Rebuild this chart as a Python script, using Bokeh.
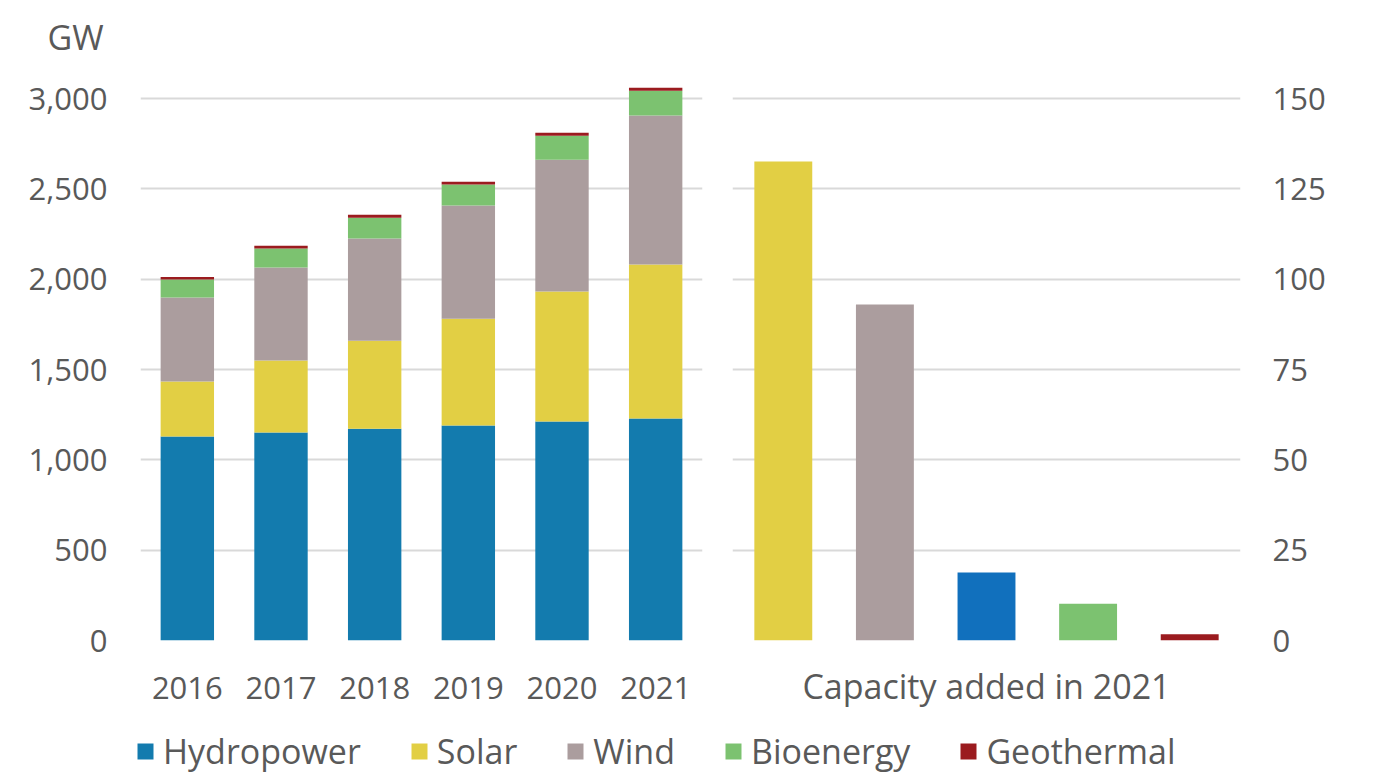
from bokeh.plotting import figure
from bokeh.models import ColumnDataSource, NumeralTickFormatter, Title, Legend, LegendItem, FixedTicker
from bokeh.layouts import column, row
from bokeh.embed import file_html
from bokeh.resources import INLINE

# ---- data ----
years = ["2016", "2017", "2018", "2019", "2020", "2021"]
hydro = [1129, 1151, 1173, 1190, 1212, 1229]
solar = [305, 399, 487, 592, 720, 852]
wind = [465, 515, 565, 626, 730, 825]
bio = [99, 105, 116, 116, 133, 138]
geo = [15, 15, 16, 16, 16, 16]

added_cats = ["Solar", "Wind", "Hydropower", "Bioenergy", "Geothermal"]
added_vals = [132.6, 93.0, 18.8, 10.2, 1.7]

left_ticks = [0, 500, 1000, 1500, 2000, 2500, 3000]
right_ticks = [0, 25, 50, 75, 100, 125, 150]

legend_names = ["Hydropower", "Solar", "Wind", "Bioenergy", "Geothermal"]

# ---- style ----
FONT = "Open Sans"
TXT = "#595959"
GRID = "#d9d9d9"
C_HYDRO = "#137bae"
C_HYDRO2 = "#1170bd"
C_SOLAR = "#e2cf44"
C_WIND = "#ab9d9e"
C_BIO = "#7cc270"
C_GEO = "#9b1b1f"
FS = "31px"
FS_L = "34px"

H = 725

def style(p):
    p.outline_line_color = None
    p.xgrid.grid_line_color = None
    p.ygrid.grid_line_color = GRID
    p.ygrid.grid_line_width = 2
    p.background_fill_color = "white"
    p.border_fill_color = "white"
    for ax in (p.xaxis[0], p.yaxis[0]):
        ax.axis_line_color = None
        ax.major_tick_line_color = None
        ax.minor_tick_line_color = None
        ax.major_tick_out = 0
        ax.major_tick_in = 0
        ax.major_label_text_font = FONT
        ax.major_label_text_font_size = FS
        ax.major_label_text_color = TXT
    p.x_range.range_padding = 0
    p.x_range.group_padding = 0

# ---- left panel ----
src = ColumnDataSource(dict(year=years, Hydropower=hydro, Solar=solar, Wind=wind,
                            Bioenergy=bio, Geothermal=geo))
left = figure(x_range=years, y_range=(0, 3200), width=717, height=H,
              output_backend="svg", toolbar_location=None,
              min_border_left=140, min_border_right=15, min_border_top=62, min_border_bottom=85)
left.vbar_stack(legend_names, x="year", width=0.57, source=src,
                color=[C_HYDRO, C_SOLAR, C_WIND, C_BIO, C_GEO], line_color=None)
style(left)
left.yaxis.ticker = FixedTicker(ticks=left_ticks)
left.yaxis.formatter = NumeralTickFormatter(format="0,0")
left.yaxis.major_label_standoff = 33
left.xaxis.major_label_standoff = 36
left.add_layout(Title(text="GW", align="left", offset=-93, standoff=5,
                      text_font=FONT, text_font_size=FS_L, text_font_style="normal",
                      text_color=TXT), "above")

# ---- right panel ----
src2 = ColumnDataSource(dict(cat=added_cats, val=added_vals,
                             col=[C_SOLAR, C_WIND, C_HYDRO2, C_BIO, C_GEO]))
right = figure(x_range=added_cats, y_range=(0, 160), width=661, height=H,
               y_axis_location="right", output_backend="svg", toolbar_location=None,
               min_border_left=15, min_border_right=138, min_border_top=62, min_border_bottom=85)
right.vbar(x="cat", top="val", width=0.57, source=src2, color="col", line_color=None)
style(right)
right.yaxis.ticker = FixedTicker(ticks=right_ticks)
right.yaxis.major_label_standoff = 32
right.xaxis.major_label_text_font_size = "1px"
right.xaxis.major_label_text_color = None
right.xaxis.major_label_standoff = 0
right.xaxis.axis_label = "Capacity added in 2021"
right.xaxis.axis_label_text_font = FONT
right.xaxis.axis_label_text_font_size = FS_L
right.xaxis.axis_label_text_font_style = "normal"
right.xaxis.axis_label_text_color = TXT
right.xaxis.axis_label_standoff = 22

# ---- legend ----
leg = figure(width=1378, height=49, x_range=(0, 1), y_range=(0, 1),
             output_backend="svg", toolbar_location=None,
             min_border=0, min_border_left=0, min_border_right=0,
             min_border_top=0, min_border_bottom=0)
leg.axis.visible = False
leg.grid.visible = False
leg.outline_line_color = None
items = []
for name, c in zip(legend_names, [C_HYDRO, C_SOLAR, C_WIND, C_BIO, C_GEO]):
    r = leg.vbar(x=[0.5], top=[0], bottom=[0], width=0.0, color=c, line_color=None)
    items.append(LegendItem(label=name, renderers=[r]))
legend = Legend(items=items, orientation="horizontal", location=(135, 0),
                glyph_width=20, glyph_height=20, label_standoff=8, spacing=48,
                padding=0, margin=0, border_line_color=None, background_fill_alpha=0,
                label_text_font=FONT, label_text_font_size=FS_L, label_text_color=TXT)
leg.add_layout(legend)

layout = column(row(left, right), leg)
open("out.html", "w").write(file_html(layout, INLINE))
